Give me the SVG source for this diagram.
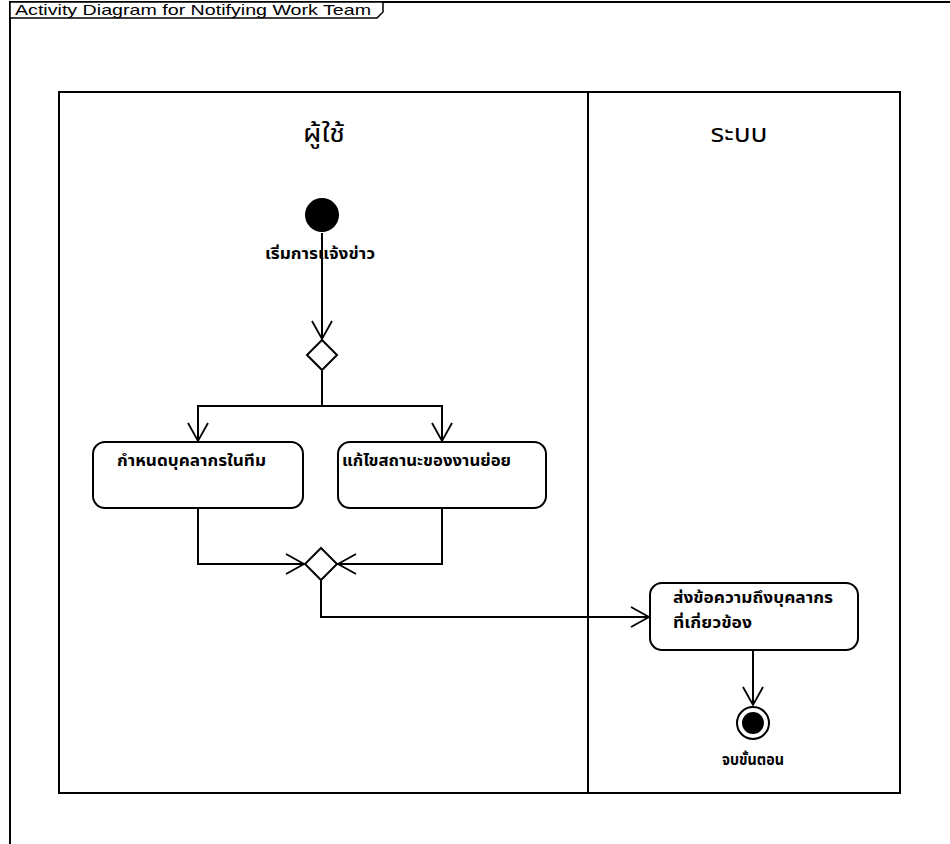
<svg xmlns="http://www.w3.org/2000/svg" width="950" height="844" viewBox="0 0 950 844">
<style>
.ln{fill:none;stroke:#000;stroke-width:2}
.act{fill:#fff;stroke:#000;stroke-width:2}
.th{font-family:"Noto Sans Thai","Tahoma","DejaVu Sans","Noto Sans",sans-serif;fill:#000}
.lbl{font-size:15px;font-weight:bold}
.hdr{font-size:25px}
.ttl{font-family:"Liberation Sans",Arial,sans-serif;font-size:15px;fill:#000}
</style>
<defs>
<marker id="arr" markerWidth="22" markerHeight="22" refX="20" refY="11" orient="auto" markerUnits="userSpaceOnUse">
<path d="M2,1 L20,11 L2,21" fill="none" stroke="#000" stroke-width="1.8"/>
</marker>
</defs>
<rect width="950" height="844" fill="#fff"/>
<g id="frame">
<path class="ln" d="M10,844 V2 H950"/>
<path d="M10,2 H383 V12 L377,18 H10 Z" fill="#fff" stroke="#000" stroke-width="1.5"/>
<text class="ttl" x="15" y="15" textLength="356" lengthAdjust="spacingAndGlyphs">Activity Diagram for Notifying Work Team</text>
</g>
<g id="lanes">
<rect class="ln" x="59" y="92" width="841" height="701" stroke-width="2.5"/>
<line class="ln" x1="588" y1="92" x2="588" y2="793" stroke-width="3"/>
<text class="th hdr" x="324" y="142" text-anchor="middle" textLength="42" lengthAdjust="spacingAndGlyphs">ผู้ใช้</text>
<text class="th hdr" x="739" y="142" text-anchor="middle" textLength="57" lengthAdjust="spacingAndGlyphs">ระบบ</text>
</g>
<g id="connectors">
<path class="ln" d="M322,233 V339" marker-end="url(#arr)"/>
<path class="ln" d="M322,371 V406 H198 V441" marker-end="url(#arr)"/>
<path class="ln" d="M322,406 H442 V441" marker-end="url(#arr)"/>
<path class="ln" d="M198,508 V564 H304" marker-end="url(#arr)"/>
<path class="ln" d="M442,508 V564 H338" marker-end="url(#arr)"/>
<path class="ln" d="M321,580 V617 H649" marker-end="url(#arr)"/>
<path class="ln" d="M753,650 V705" marker-end="url(#arr)"/>
</g>
<g id="start">
<circle cx="322" cy="215" r="17" fill="#000"/>
<text class="th lbl" x="265" y="259" textLength="110" lengthAdjust="spacingAndGlyphs">เริ่มการแจ้งข่าว</text>
</g>
<g id="decision">
<path class="act" d="M322,340 L337,355 L322,370 L307,355 Z"/>
</g>
<g id="act1">
<rect class="act" x="93" y="442" width="210" height="66" rx="12"/>
<text class="th lbl" x="117" y="466" textLength="149" lengthAdjust="spacingAndGlyphs">กำหนดบุคลากรในทีม</text>
</g>
<g id="act2">
<rect class="act" x="338" y="442" width="208" height="66" rx="12"/>
<text class="th lbl" x="342" y="466" textLength="169" lengthAdjust="spacingAndGlyphs">แก้ไขสถานะของงานย่อย</text>
</g>
<g id="merge">
<path class="act" d="M321,548 L337,564 L321,580 L305,564 Z"/>
</g>
<g id="act3">
<rect class="act" x="650" y="583" width="208" height="67" rx="12"/>
<text class="th lbl" x="673" y="603" textLength="160" lengthAdjust="spacingAndGlyphs">ส่งข้อความถึงบุคลากร</text>
<text class="th lbl" x="673" y="628" textLength="79" lengthAdjust="spacingAndGlyphs">ที่เกี่ยวข้อง</text>
</g>
<g id="end">
<circle cx="753" cy="723" r="16" fill="#fff" stroke="#000" stroke-width="2"/>
<circle cx="753" cy="723" r="11" fill="#000"/>
<text class="th lbl" x="753" y="765" text-anchor="middle" textLength="62" lengthAdjust="spacingAndGlyphs">จบขั้นตอน</text>
</g>
</svg>
